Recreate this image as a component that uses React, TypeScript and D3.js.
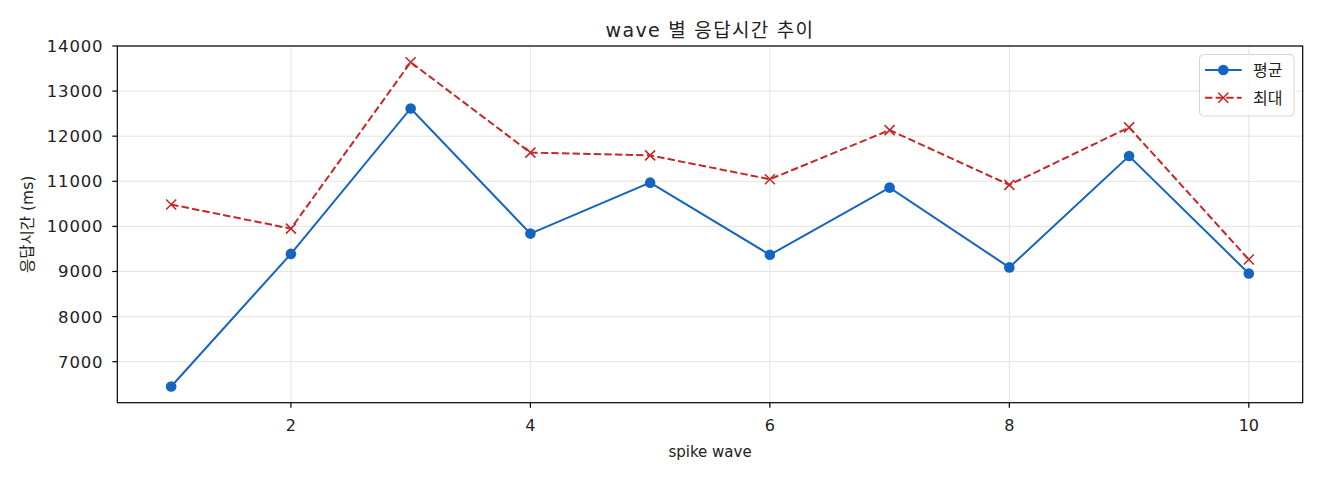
import React from "react";
import * as d3 from "d3";

const waves = [1, 2, 3, 4, 5, 6, 7, 8, 9, 10];
const avgMs = [6450, 9390, 12615, 9840, 10970, 9370, 10860, 9090, 11560, 8955];
const maxMs = [10485, 9950, 13640, 11635, 11575, 11045, 12135, 10920, 12195, 9265];
const yTicks = [7000, 8000, 9000, 10000, 11000, 12000, 13000, 14000];
const xTicks = [2, 4, 6, 8, 10];
const seriesNames = ["평균", "최대"];

const W = 1320, H = 480;
const M = { left: 117.3, right: 1302.7, top: 46, bottom: 402.7 };
const FONT = "'DejaVu Sans', 'Noto Sans CJK KR', sans-serif";
const BLUE = "#1565C0";
const RED = "#C62828";

export default function App() {
  const all = [...avgMs, ...maxMs];
  const lo = d3.min(all)!, hi = d3.max(all)!;
  const pad = (hi - lo) * 0.05;
  const x = d3.scaleLinear().domain([1 - 0.45, 10 + 0.45]).range([M.left, M.right]);
  const y = d3.scaleLinear().domain([lo - pad, hi + pad]).range([M.bottom, M.top]);
  const line = d3.line<number>().x((_, i) => x(waves[i])).y((d) => y(d));
  const cx = (M.left + M.right) / 2;
  const cy = (M.top + M.bottom) / 2;
  const cross = (px: number, py: number, k: string, s = 5) => (
    <path key={k} d={`M${px - s},${py - s}L${px + s},${py + s}M${px - s},${py + s}L${px + s},${py - s}`} stroke={RED} strokeWidth={1.6} fill="none" />
  );
  return (
    <svg width={W} height={H} style={{ position: "absolute", left: 0, top: 0, background: "#fff" }} fontFamily={FONT}>
      <rect x={0} y={0} width={W} height={H} fill="#fff" />
      {/* grid */}
      {yTicks.map((t) => (
        <line key={"gy" + t} x1={M.left} x2={M.right} y1={y(t)} y2={y(t)} stroke="#e3e3e3" strokeWidth={1} />
      ))}
      {xTicks.map((t) => (
        <line key={"gx" + t} x1={x(t)} x2={x(t)} y1={M.top} y2={M.bottom} stroke="#e3e3e3" strokeWidth={1} />
      ))}
      {/* lines */}
      <path d={line(maxMs)!} fill="none" stroke={RED} strokeWidth={2} strokeDasharray="7.4,3.2" />
      {maxMs.map((v, i) => cross(x(waves[i]), y(v), "c" + i))}
      <path d={line(avgMs)!} fill="none" stroke={BLUE} strokeWidth={2} />
      {avgMs.map((v, i) => (
        <circle key={"a" + i} cx={x(waves[i])} cy={y(v)} r={5.3} fill={BLUE} />
      ))}
      {/* frame */}
      <rect x={M.left} y={M.top} width={M.right - M.left} height={M.bottom - M.top} fill="none" stroke="#000" strokeWidth={1.2} />
      {/* y ticks */}
      {yTicks.map((t) => (
        <g key={"ty" + t}>
          <line x1={M.left - 5} x2={M.left} y1={y(t)} y2={y(t)} stroke="#000" strokeWidth={1.2} />
          <text x={M.left - 14} y={y(t)} dy="0.36em" textAnchor="end" fontSize={16.5} letterSpacing={0.8} fill="#222">{t}</text>
        </g>
      ))}
      {xTicks.map((t) => (
        <g key={"tx" + t}>
          <line x1={x(t)} x2={x(t)} y1={M.bottom} y2={M.bottom + 5} stroke="#000" strokeWidth={1.2} />
          <text x={x(t)} y={M.bottom + 28.5} textAnchor="middle" fontSize={16} fill="#222">{t}</text>
        </g>
      ))}
      <text x={cx} y={457} textAnchor="middle" fontSize={15} fill="#222">spike wave</text>
      <text transform={`translate(33,${cy}) rotate(-90)`} textAnchor="middle" fontSize={15.5} fill="#222">응답시간 (ms)</text>
      <text x={cx} y={36.5} textAnchor="middle" fontSize={19} letterSpacing={1.3} fill="#222">wave 별 응답시간 추이</text>
      {/* legend */}
      <g>
        <rect x={1199.5} y={54.5} width={94.5} height={61.5} rx={4} fill="#fff" fillOpacity={0.85} stroke="#d6d6d6" strokeWidth={1} />
        <line x1={1205} x2={1241.7} y1={70} y2={70} stroke={BLUE} strokeWidth={2} />
        <circle cx={1223.3} cy={70} r={5.3} fill={BLUE} />
        <text x={1253} y={70} dy="0.36em" fontSize={16} fill="#222">{seriesNames[0]}</text>
        <line x1={1205} x2={1241.7} y1={97.8} y2={97.8} stroke={RED} strokeWidth={2} strokeDasharray="7.4,3.2" />
        {cross(1223.3, 97.8, "lc")}
        <text x={1253} y={97.8} dy="0.36em" fontSize={16} fill="#222">{seriesNames[1]}</text>
      </g>
    </svg>
  );
}
